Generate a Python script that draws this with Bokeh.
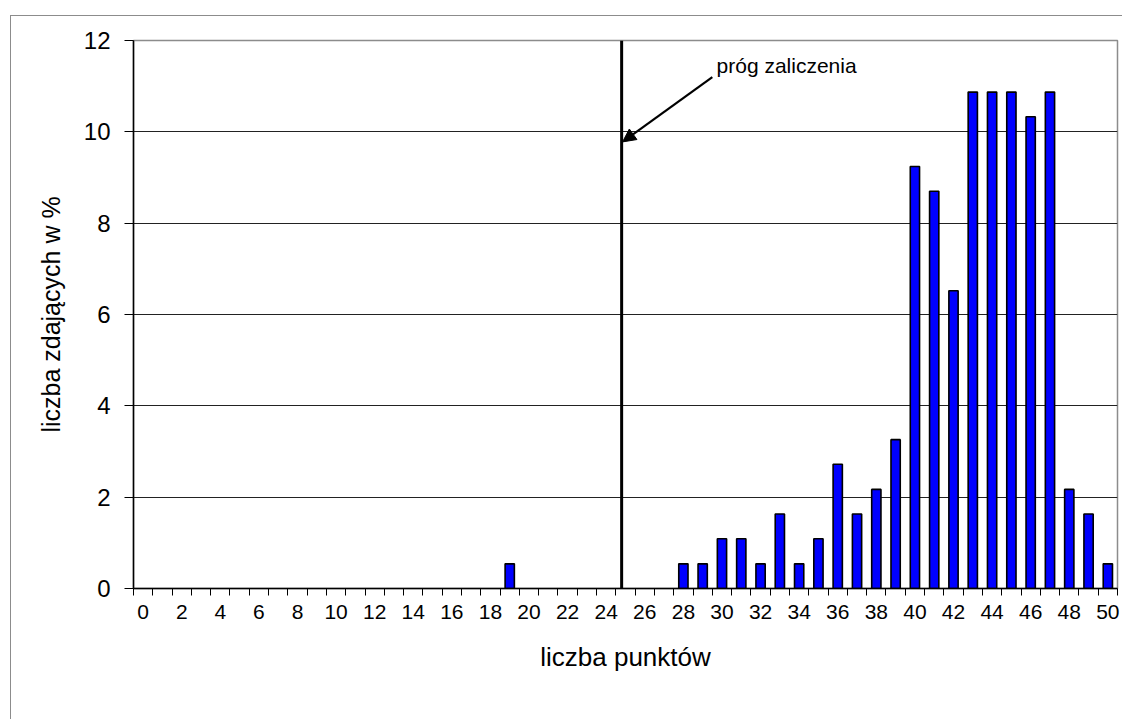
from bokeh.plotting import figure
from bokeh.models import (Range1d, FixedTicker, Arrow, NormalHead, Label,
                          ColumnDataSource)
from bokeh.embed import file_html
from bokeh.resources import INLINE

# ---- data -------------------------------------------------------------
points = list(range(0, 51))
percent = [0, 0, 0, 0, 0, 0, 0, 0, 0, 0,
           0, 0, 0, 0, 0, 0, 0, 0, 0, 0.54,
           0, 0, 0, 0, 0, 0, 0, 0, 0.54, 0.54,
           1.09, 1.09, 0.54, 1.63, 0.54, 1.09, 2.72, 1.63, 2.17, 3.26,
           9.24, 8.70, 6.52, 10.87, 10.87, 10.87, 10.33, 10.87, 2.17, 1.63,
           0.54]
x_tick_labels = [0, 2, 4, 6, 8, 10, 12, 14, 16, 18, 20, 22, 24, 26, 28, 30,
                 32, 34, 36, 38, 40, 42, 44, 46, 48, 50]
y_ticks = [0, 2, 4, 6, 8, 10, 12]
threshold_x = 24.8
annotation_text = "próg zaliczenia"

FONT = "Liberation Sans"

# only non-empty bars are visible
bx = [x for x, v in zip(points, percent) if v > 0]
bt = [v for v in percent if v > 0]
src = ColumnDataSource(dict(x=bx, top=bt))

p = figure(width=1112, height=704, output_backend="svg", toolbar_location=None,
           x_range=Range1d(-0.5, 50.5), y_range=Range1d(0, 12),
           min_border_left=122, min_border_right=6, min_border_top=24,
           min_border_bottom=132,
           margin=(15, 0, 0, 10),
           styles={"border-left": "1px solid #8c8c8c",
                   "border-top": "1px solid #8c8c8c"})

p.background_fill_color = "white"
p.border_fill_color = "white"
p.outline_line_color = "#8c8c8c"
p.outline_line_width = 1.5

p.vbar(x="x", top="top", width=0.48, bottom=0, source=src,
       fill_color="#0000FF", line_color="black", line_width=1.6)

# threshold line (extends slightly below the axis)
p.add_layout(Arrow(end=None, x_start=threshold_x, y_start=12,
                   x_end=threshold_x, y_end=-0.35,
                   line_color="black", line_width=3))

# annotation arrow and text
p.add_layout(Arrow(end=NormalHead(size=13, fill_color="black", line_color="black"),
                   x_start=29.5, y_start=11.2, x_end=24.85, y_end=9.78,
                   line_color="black", line_width=2.2))
p.add_layout(Label(x=29.72, y=11.45, text=annotation_text, text_font=FONT,
                   text_font_size="21px", text_color="black",
                   text_baseline="alphabetic", text_align="left"))

# grids
p.xgrid.grid_line_color = None
p.ygrid.ticker = FixedTicker(ticks=y_ticks[1:-1])
p.ygrid.grid_line_color = "#222222"
p.ygrid.grid_line_width = 1

# x axis
xa = p.xaxis[0]
xa.ticker = FixedTicker(ticks=x_tick_labels,
                        minor_ticks=[v - 0.5 for v in points] + [50.5])
xa.major_tick_line_color = None
xa.major_tick_out = 7
xa.major_tick_in = 0
xa.minor_tick_out = 7
xa.minor_tick_in = 0
xa.minor_tick_line_color = "black"
xa.minor_tick_line_width = 1
xa.axis_line_color = "black"
xa.axis_line_width = 1.5
xa.major_label_text_font = FONT
xa.major_label_text_font_size = "21px"
xa.major_label_text_color = "black"
xa.major_label_standoff = 9
xa.axis_label = "liczba punktów"
xa.axis_label_text_font = FONT
xa.axis_label_text_font_size = "26px"
xa.axis_label_text_font_style = "normal"
xa.axis_label_text_color = "black"
xa.axis_label_standoff = 20

# y axis
ya = p.yaxis[0]
ya.ticker = FixedTicker(ticks=y_ticks)
ya.minor_tick_line_color = None
ya.major_tick_out = 9
ya.major_tick_in = 0
ya.major_tick_line_color = "black"
ya.axis_line_color = "black"
ya.axis_line_width = 1.5
ya.major_label_text_font = FONT
ya.major_label_text_font_size = "24px"
ya.major_label_text_color = "black"
ya.major_label_standoff = 14
ya.axis_label = "liczba zdających w %"
ya.axis_label_text_font = FONT
ya.axis_label_text_font_size = "25px"
ya.axis_label_text_font_style = "normal"
ya.axis_label_text_color = "black"
ya.axis_label_standoff = 16

open("out.html", "w").write(file_html(p, INLINE))
